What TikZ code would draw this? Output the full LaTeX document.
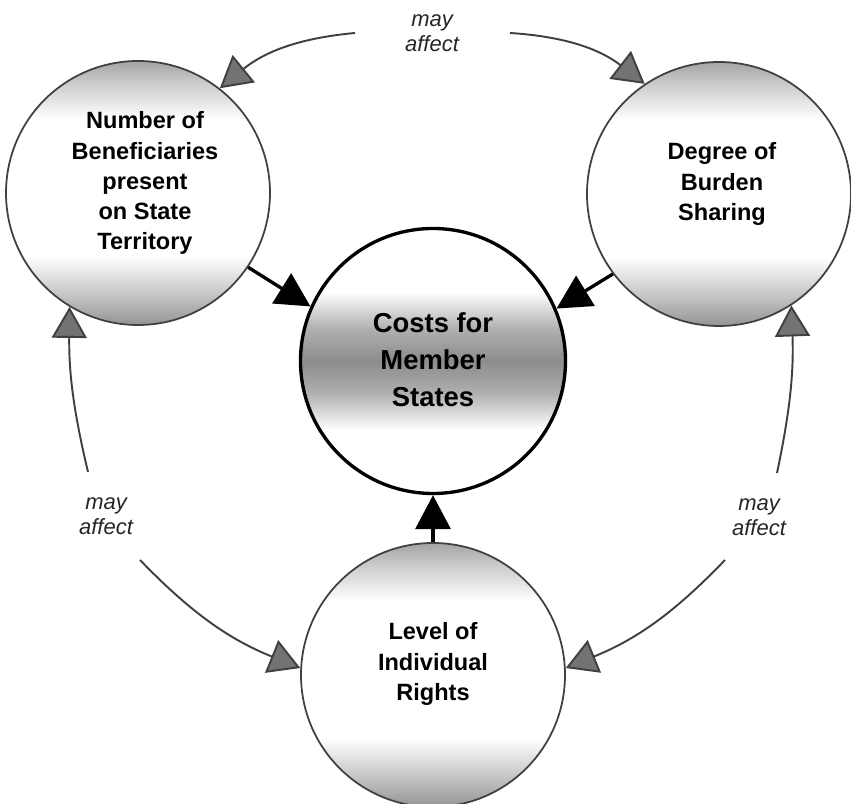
\documentclass[tikz,border=0pt]{standalone}
\usepackage{fontspec}
\setmainfont{Liberation Sans}
\usetikzlibrary{arrows.meta}
\colorlet{rimgray}{black!42}
\colorlet{bandgray}{black!45}
\pgfdeclareverticalshading{rimshade}{100bp}{color(0bp)=(rimgray); color(25bp)=(rimgray); color(30bp)=(rimgray!60); color(38bp)=(white); color(64bp)=(white); color(71bp)=(rimgray!50); color(75bp)=(rimgray!85); color(100bp)=(rimgray!85)}
\pgfdeclareverticalshading{bandshade}{100bp}{color(0bp)=(white); color(37bp)=(white); color(44bp)=(bandgray!70); color(50bp)=(bandgray); color(56bp)=(bandgray!70); color(63bp)=(white); color(100bp)=(white)}

\begin{document}
\begin{tikzpicture}[
    factor/.style={circle, draw=black!75, line width=1pt, minimum size=5.28cm, inner sep=0pt, shade, shading=rimshade},
    costnode/.style={circle, draw, line width=1.9pt, minimum size=5.3cm, inner sep=0pt, shade, shading=bandshade},
    factortext/.style={align=center, font=\bfseries\fontsize{13.4}{17.1}\selectfont},
    maytext/.style={align=center, font=\itshape\fontsize{12.5}{14.2}\selectfont, text=black!85},
    affect/.style={draw=black!75, line width=1.1pt, -{Triangle[length=0.62cm, width=0.7cm, fill=black!55]}},
    cause/.style={line width=1.9pt, -{Triangle[length=0.68cm, width=0.7cm]}}
]
    \useasboundingbox (0,0) rectangle (17.02,16.08);
    % Circles
    \node[factor] (benef) at (2.76,12.22) {};
    \node[factor] (burden) at (14.38,12.20) {};
    \node[costnode] (costs) at (8.66,8.86) {};
    \node[factor] (rights) at (8.66,2.58) {};
    % Circle texts
    \node[factortext] (benef-txt) at (2.90,12.42) {Number of\\Beneficiaries\\present\\on State\\Territory};
    \node[factortext] (burden-txt) at (14.44,12.40) {Degree of\\Burden\\Sharing};
    \node[factortext, font=\bfseries\fontsize{15.6}{21}\selectfont] (costs-txt) at (8.66,8.88) {Costs for\\Member\\States};
    \node[factortext] (rights-txt) at (8.66,2.80) {Level of\\Individual\\Rights};
    % may affect labels
    \node[maytext] (may-top) at (8.64,15.42) {may\\affect};
    \node[maytext] (may-left) at (2.12,5.76) {may\\affect};
    \node[maytext] (may-right) at (15.18,5.74) {may\\affect};
    % Arc starts
    \coordinate (top-l) at (7.10,15.42);
    \coordinate (top-r) at (10.20,15.42);
    \coordinate (left-u) at (1.76,6.64);
    \coordinate (right-u) at (15.54,6.62);
    \coordinate (left-d) at (2.80,4.88);
    \coordinate (right-d) at (14.50,4.88);
    % Feedback arcs
    \draw[affect] (top-l) to[bend right=17] (benef.52);
    \draw[affect] (top-r) to[bend left=17] (burden.124);
    \draw[affect] (left-u) to[bend left=7] (benef.239);
    \draw[affect] (right-u) to[bend right=7] (burden.303);
    \draw[affect] (left-d) to[bend right=12] (rights.177);
    \draw[affect] (right-d) to[bend left=12] (rights.3);
    % Effects on costs
    \draw[cause] (benef.-34) -- (costs.156);
    \draw[cause] (burden.217) -- (costs.23);
    \draw[cause] (rights.north) -- (costs.south);
\end{tikzpicture}
\end{document}
